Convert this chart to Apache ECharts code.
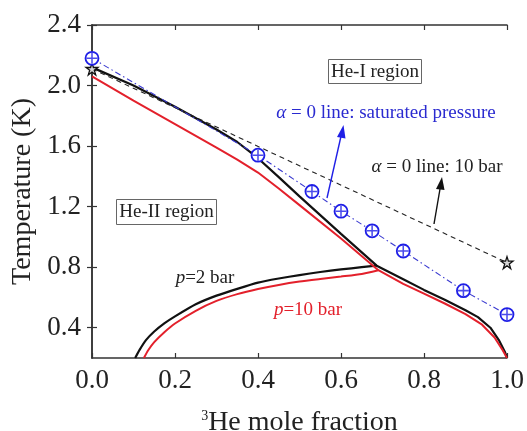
<!DOCTYPE html>
<html>
<head>
<meta charset="utf-8">
<script src="https://cdn.jsdelivr.net/npm/echarts@6/dist/echarts.min.js"></script>
<style>
html,body{margin:0;padding:0;background:#fff;}
#chart{width:527px;height:431px;}
</style>
</head>
<body>
<div id="chart"></div>
<script>
// ---- data (x = 3He mole fraction, y = temperature K) ----
const xTicks = [0, 0.2, 0.4, 0.6, 0.8, 1.0];
const yTicks = [0.4, 0.8, 1.2, 1.6, 2.0, 2.4];

// p = 2 bar : lambda line + right branch of phase separation
const lambda2 = [[0,2.12],[0.1,2.0],[0.2,1.86],[0.3,1.71],[0.35,1.627],[0.4,1.52],[0.45,1.395],[0.5,1.268],[0.6,1.02],[0.686,0.81],
                 [0.75,0.72],[0.8,0.65],[0.85,0.585],[0.9,0.515],[0.93,0.47],[0.96,0.40],[0.98,0.32],[0.995,0.24],[1.0,0.2]];
// p = 2 bar : left branch of phase separation
const sep2 = [[0.104,0.2],[0.115,0.255],[0.13,0.318],[0.15,0.375],[0.175,0.43],[0.2,0.475],[0.25,0.555],[0.3,0.612],[0.35,0.657],[0.4,0.698],[0.45,0.725],
              [0.5,0.748],[0.55,0.768],[0.6,0.785],[0.65,0.80],[0.686,0.81]];
// p = 10 bar : lambda line + right branch
const lambda10 = [[0,2.06],[0.1,1.90],[0.2,1.745],[0.3,1.59],[0.35,1.51],[0.4,1.425],[0.45,1.32],[0.5,1.21],[0.6,0.99],[0.69,0.78],
                  [0.75,0.69],[0.8,0.625],[0.85,0.56],[0.9,0.49],[0.94,0.42],[0.97,0.335],[0.99,0.25],[1.0,0.2]];
// p = 10 bar : left branch
const sep10 = [[0.125,0.2],[0.135,0.25],[0.15,0.305],[0.175,0.372],[0.2,0.428],[0.25,0.512],[0.3,0.577],[0.35,0.622],[0.4,0.656],[0.45,0.683],
               [0.5,0.705],[0.55,0.722],[0.6,0.738],[0.65,0.755],[0.69,0.78]];
// alpha = 0 line at 10 bar (stars)
const alpha10 = [[0,2.11],[1.0,0.83]];
// alpha = 0 line at saturated pressure (circles)
const alphaSat = [[0,2.18],[0.4,1.54],[0.53,1.30],[0.6,1.17],[0.675,1.04],[0.75,0.907],[0.895,0.645],[1.0,0.487]];

const FONT = "'Liberation Serif','Times New Roman',serif";
const BLUE = '#1f1fe6';
const RED = '#e3202b';
const STAR = 'path://M50,0 L61.8,35.4 L100,35.4 L69.1,57.3 L80.9,92.7 L50,70.8 L19.1,92.7 L30.9,57.3 L0,35.4 L38.2,35.4 Z';
const PLUS = 'path://M43,0 H57 V43 H100 V57 H57 V100 H43 V57 H0 V43 H43 Z';

const chart = echarts.init(document.getElementById('chart'), null, {renderer:'canvas'});

const axisLine = {show:true, lineStyle:{color:'#333', width:1.5}};
const option = {
  backgroundColor:'#fff',
  animation:false,
  grid:{left:92, right:20, top:25, bottom:73, containLabel:false, outerBoundsMode:'none'},
  xAxis:[{
    type:'value', min:0, max:1, interval:0.2, position:'bottom',
    axisLine:axisLine,
    axisTick:{show:true, inside:true, length:5, lineStyle:{color:'#333', width:1.2}},
    axisLabel:{fontFamily:FONT, fontSize:27, color:'#222', margin:9, formatter:v=>v.toFixed(1)},
    splitLine:{show:false},
    name:'{s|3}He mole fraction', nameLocation:'middle', nameGap:65,
    nameTextStyle:{fontFamily:FONT, fontSize:28, color:'#222', verticalAlign:'middle',
      rich:{s:{fontFamily:FONT, fontSize:14, color:'#222', verticalAlign:'top', lineHeight:28}}}
  },{
    type:'value', min:0, max:1, interval:0.2, position:'top',
    axisLine:axisLine,
    axisTick:{show:true, inside:true, length:5, lineStyle:{color:'#333', width:1.2}},
    axisLabel:{show:false}, splitLine:{show:false}
  }],
  yAxis:[{
    type:'value', min:0.2, max:2.4, position:'left',
    axisLine:axisLine,
    axisTick:{show:true, inside:true, length:5, customValues:yTicks, lineStyle:{color:'#333', width:1.2}},
    axisLabel:{fontFamily:FONT, fontSize:27, color:'#222', margin:11, customValues:yTicks, formatter:v=>v.toFixed(1)},
    splitLine:{show:false},
    name:'Temperature (K)', nameLocation:'middle', nameGap:67, nameRotate:90,
    nameTextStyle:{fontFamily:FONT, fontSize:28, color:'#222', verticalAlign:'middle'}
  },{
    type:'value', min:0.2, max:2.4, position:'right',
    axisLine:axisLine,
    axisTick:{show:true, inside:true, length:5, customValues:yTicks, lineStyle:{color:'#333', width:1.2}},
    axisLabel:{show:false}, splitLine:{show:false}
  }],
  series:[
    {type:'line', name:'p=2 bar lambda', data:lambda2, symbol:'none', smooth:false,
     lineStyle:{color:'#111', width:2.2}, z:3},
    {type:'line', name:'p=2 bar separation', data:sep2, symbol:'none', smooth:0.2,
     lineStyle:{color:'#111', width:2.2}, z:3},
    {type:'line', name:'p=10 bar lambda', data:lambda10, symbol:'none',
     lineStyle:{color:RED, width:2}, z:4},
    {type:'line', name:'p=10 bar separation', data:sep10, symbol:'none', smooth:0.2,
     lineStyle:{color:RED, width:2}, z:4},
    {type:'line', name:'alpha=0 10 bar', data:alpha10, symbol:STAR, symbolSize:12, clip:false,
     lineStyle:{color:'#222', width:1.1, type:[5,4]},
     itemStyle:{color:'#d8d8d8', borderColor:'#111', borderWidth:1.3}, z:5},
    {type:'line', name:'alpha=0 saturated', data:alphaSat, symbol:'circle', symbolSize:13, clip:false,
     lineStyle:{color:'#3a3ad0', width:1.1, type:[6,3,1.5,3]},
     itemStyle:{color:'#fff', borderColor:BLUE, borderWidth:1.8}, z:6},
    {type:'scatter', name:'alpha=0 saturated cross', data:alphaSat, symbol:PLUS, symbolSize:11, clip:false,
     itemStyle:{color:BLUE}, z:7}
  ],
  graphic:[
    // He-I region box
    {type:'rect', shape:{x:328.5, y:59.5, width:93, height:24}, style:{fill:'#fff', stroke:'#666', lineWidth:1}, z:10},
    {type:'text', x:375, y:72, style:{text:'He-I region', font:'19px '+FONT, fill:'#222', align:'center', verticalAlign:'middle'}, z:11},
    // He-II region box
    {type:'rect', shape:{x:116.5, y:199.5, width:100, height:25}, style:{fill:'#fff', stroke:'#666', lineWidth:1}, z:10},
    {type:'text', x:166.5, y:212.5, style:{text:'He-II region', font:'19px '+FONT, fill:'#222', align:'center', verticalAlign:'middle'}, z:11},
    // blue annotation
    {type:'text', x:386, y:113, z:11, style:{text:'{i|α} = 0 line: saturated pressure', font:'19px '+FONT, fill:'#2a2ad0', align:'center', verticalAlign:'middle',
      rich:{i:{fontStyle:'italic', fontFamily:FONT, fontSize:19, fill:'#2a2ad0'}}}},
    {type:'line', shape:{x1:327, y1:198, x2:341.5, y2:134}, style:{stroke:'#1f1fe6', lineWidth:1.4}, z:11},
    {type:'polygon', shape:{points:[[343.5,125],[337,137],[345.5,138.5]]}, style:{fill:'#1f1fe6'}, z:11},
    // black annotation
    {type:'text', x:437, y:167, z:11, style:{text:'{i|α} = 0 line: 10 bar', font:'19px '+FONT, fill:'#222', align:'center', verticalAlign:'middle',
      rich:{i:{fontStyle:'italic', fontFamily:FONT, fontSize:19, fill:'#222'}}}},
    {type:'line', shape:{x1:434, y1:224, x2:440.5, y2:186}, style:{stroke:'#111', lineWidth:1.4}, z:11},
    {type:'polygon', shape:{points:[[442,177],[436,189],[444.5,190]]}, style:{fill:'#111'}, z:11},
    // pressure labels
    {type:'text', x:205, y:278, z:11, style:{text:'{i|p}=2 bar', font:'19px '+FONT, fill:'#222', align:'center', verticalAlign:'middle',
      rich:{i:{fontStyle:'italic', fontFamily:FONT, fontSize:19, fill:'#222'}}}},
    {type:'text', x:308, y:310, z:11, style:{text:'{i|p}=10 bar', font:'19px '+FONT, fill:RED, align:'center', verticalAlign:'middle',
      rich:{i:{fontStyle:'italic', fontFamily:FONT, fontSize:19, fill:RED}}}}
  ]
};
chart.setOption(option);
</script>
</body>
</html>
